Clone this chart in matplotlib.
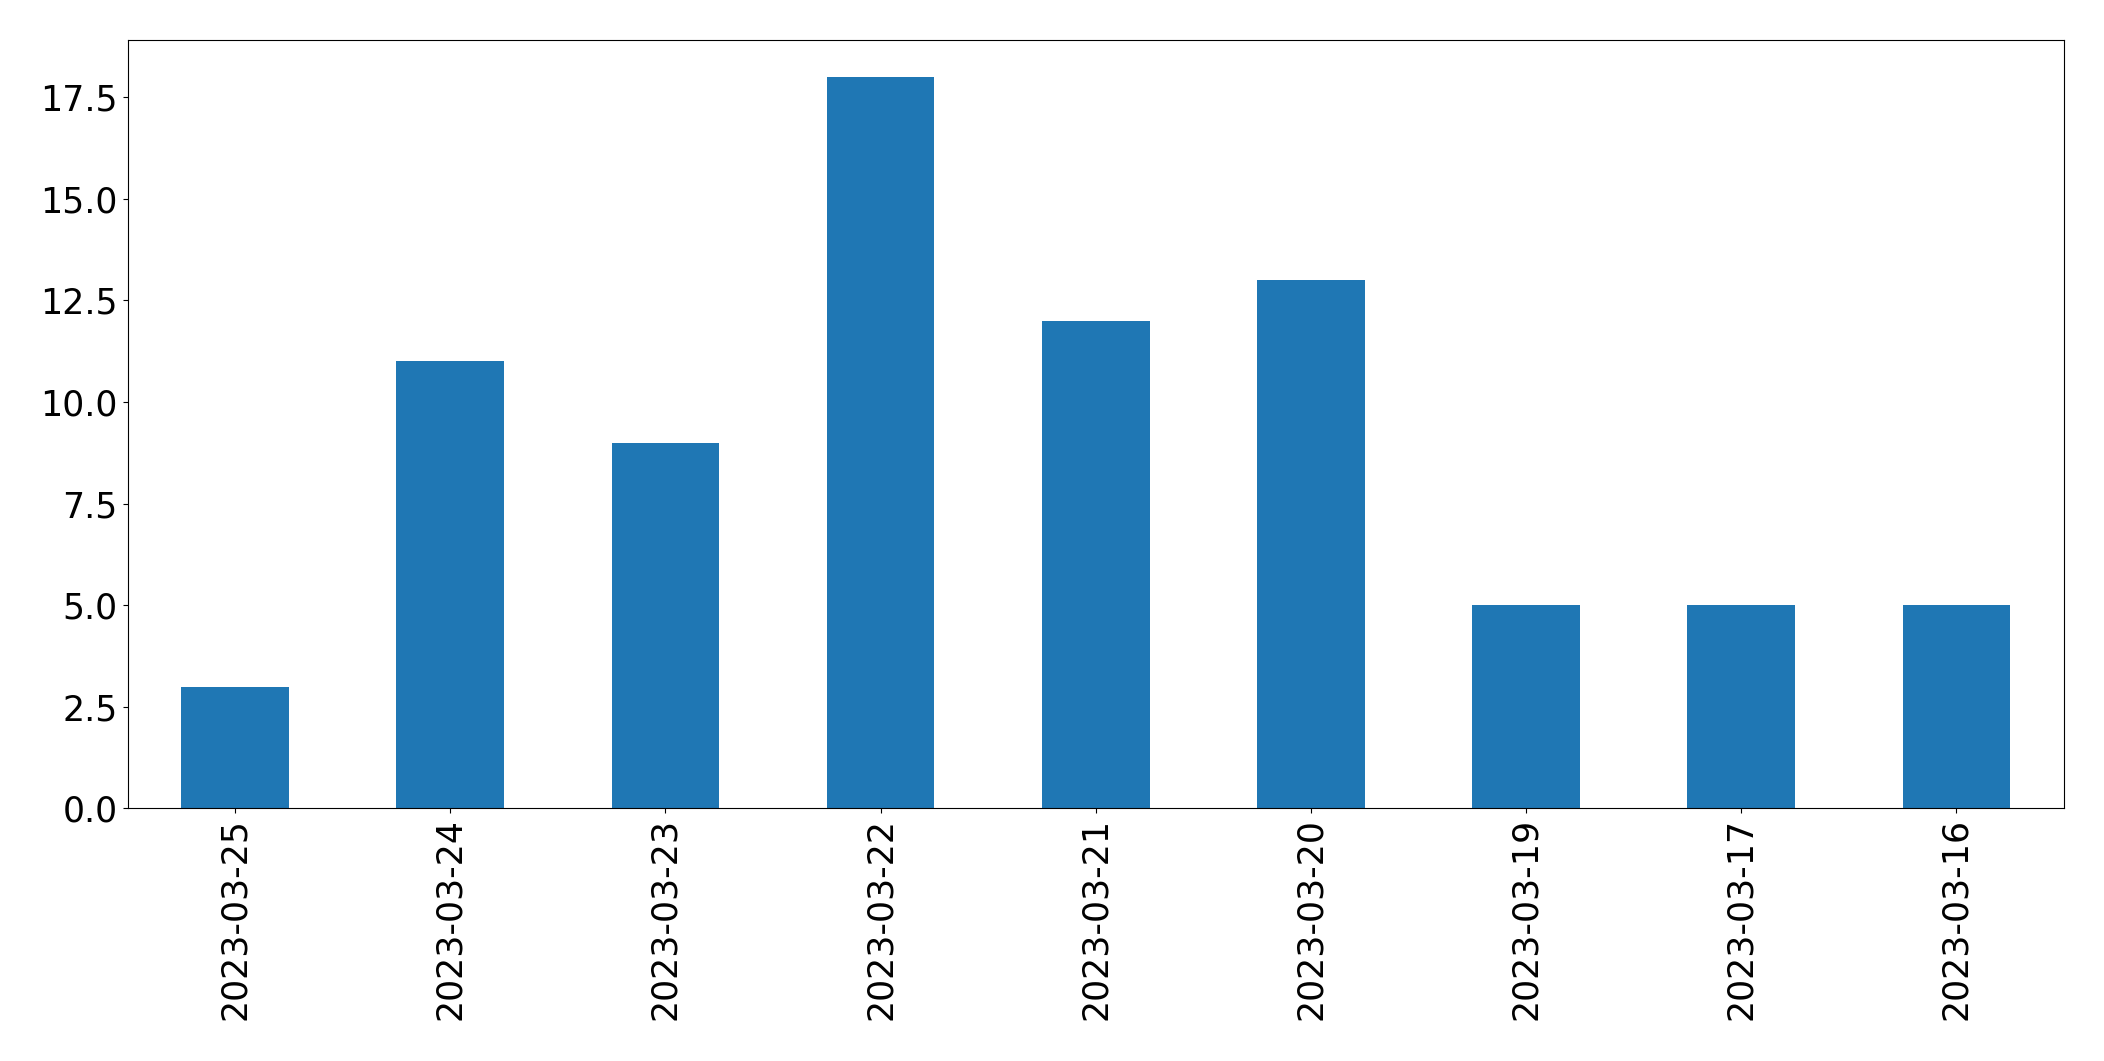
import matplotlib
matplotlib.use("Agg")
import matplotlib.pyplot as plt
import pandas as pd

dates = ["2023-03-25", "2023-03-24", "2023-03-23", "2023-03-22", "2023-03-21",
         "2023-03-20", "2023-03-19", "2023-03-17", "2023-03-16"]
counts = [3, 11, 9, 18, 12, 13, 5, 5, 5]

s = pd.Series(counts, index=dates)

fig, ax = plt.subplots(figsize=(21.04, 10.61), dpi=100)
s.plot(kind="bar", ax=ax, color="#1f77b4")
ax.tick_params(axis="both", labelsize=25)
fig.subplots_adjust(left=0.0606, right=0.981, top=0.962, bottom=0.238)
fig.savefig("out.png", dpi=100)
